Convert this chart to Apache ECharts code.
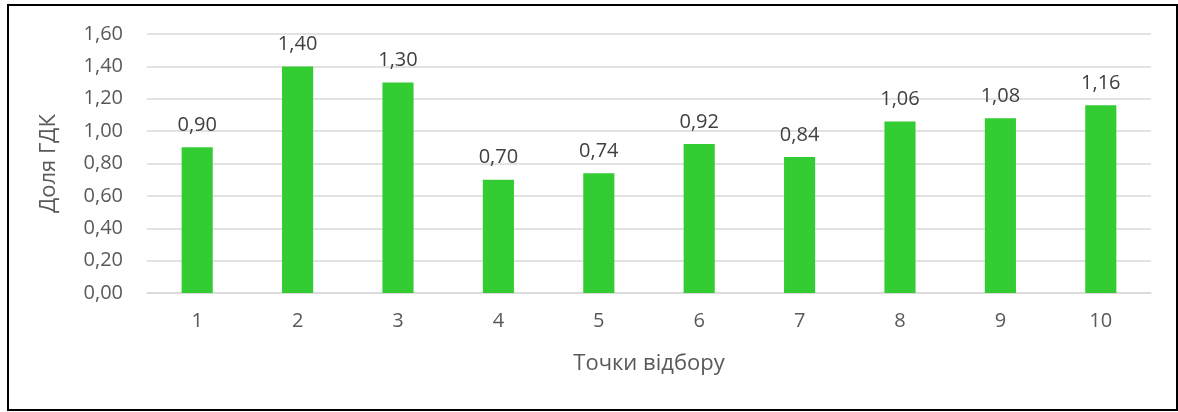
<!DOCTYPE html>
<html><head><meta charset="utf-8">
<script src="https://cdn.jsdelivr.net/npm/echarts@6/dist/echarts.min.js"></script>
<style>html,body{margin:0;padding:0;background:#fff}
#frame{position:absolute;left:7px;top:4px;width:1171px;height:407px;border:2px solid #000;box-sizing:border-box}
#c{position:absolute;left:0;top:0;width:1178px;height:412px}</style>
</head><body><div id="frame"></div><div id="c"></div>
<script>
const categories = ['1','2','3','4','5','6','7','8','9','10'];
const values = [0.90, 1.40, 1.30, 0.70, 0.74, 0.92, 0.84, 1.06, 1.08, 1.16];
const yTicks = [0, 0.2, 0.4, 0.6, 0.8, 1.0, 1.2, 1.4, 1.6];
const font = 'Open Sans';
const chart = echarts.init(document.getElementById('c'));
chart.setOption({
  animation: false,
  grid: {left: 147, right: 27, top: 34, bottom: 119},
  xAxis: {
    type: 'category', data: categories,
    name: 'Точки відбору', nameLocation: 'middle', nameGap: 60,
    nameTextStyle: {fontFamily: font, fontSize: 22, color: '#595959'},
    axisLine: {lineStyle: {color: '#d9d9d9', width: 1.5}},
    axisTick: {show: false},
    axisLabel: {fontFamily: font, fontSize: 20, color: '#595959', margin: 18}
  },
  yAxis: {
    type: 'value', min: yTicks[0], max: yTicks[yTicks.length-1], interval: 0.2,
    name: 'Доля ГДК', nameLocation: 'middle', nameGap: 87, nameRotate: 90,
    nameTextStyle: {fontFamily: font, fontSize: 22, color: '#595959'},
    axisLine: {show: false}, axisTick: {show: false},
    splitLine: {lineStyle: {color: '#d9d9d9', width: 1.5}},
    axisLabel: {fontFamily: font, fontSize: 20, color: '#595959', margin: 24,
      formatter: v => v.toFixed(2).replace('.', ',')}
  },
  series: [{
    type: 'bar', data: values, barWidth: '31%',
    itemStyle: {color: '#33cc33'},
    label: {show: true, position: 'top', distance: 12, fontFamily: font, fontSize: 20, color: '#404040',
      formatter: p => p.value.toFixed(2).replace('.', ',')}
  }]
});
</script></body></html>
